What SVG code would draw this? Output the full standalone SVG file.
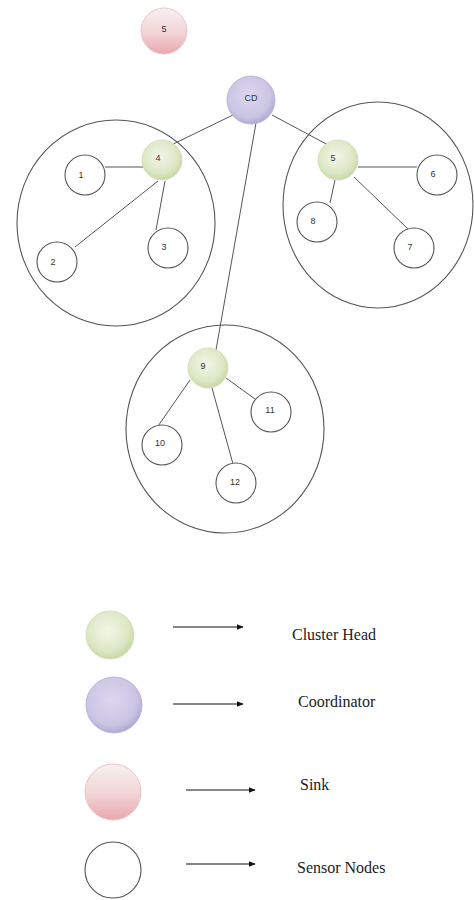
<svg xmlns="http://www.w3.org/2000/svg" width="474" height="900" viewBox="0 0 474 900">
<defs>
<radialGradient id="gGreen" cx="0.45" cy="0.4" r="0.6">
<stop offset="0" stop-color="#f3f6e8"/>
<stop offset="0.7" stop-color="#dde8c6"/>
<stop offset="1" stop-color="#c8d9a6"/>
</radialGradient>
<radialGradient id="gPurple" cx="0.45" cy="0.4" r="0.6">
<stop offset="0" stop-color="#dcd7ee"/>
<stop offset="0.75" stop-color="#cbc5e4"/>
<stop offset="1" stop-color="#b2abd2"/>
</radialGradient>
<linearGradient id="gPink" x1="0" y1="0" x2="0" y2="1">
<stop offset="0" stop-color="#f8f0f0"/>
<stop offset="0.5" stop-color="#f2d6d8"/>
<stop offset="1" stop-color="#e8a8ae"/>
</linearGradient>
<marker id="arr" viewBox="0 0 10 10" refX="9" refY="5" markerWidth="7" markerHeight="7" markerUnits="userSpaceOnUse" orient="auto">
<path d="M0,1 L10,5 L0,9 z" fill="#111"/>
</marker>
<style>
.cl{fill:none;stroke:#555;stroke-width:1.1}
.sn{fill:#fff;stroke:#555;stroke-width:1.1}
.ch{fill:url(#gGreen);stroke:#d4e1bd;stroke-width:1}
.co{fill:url(#gPurple);stroke:#bdb6d8;stroke-width:1}
.sk{fill:url(#gPink);stroke:#e6c6c8;stroke-width:1}
.ln{stroke:#555;stroke-width:1;fill:none}
.lb{font-family:"Liberation Sans","Open Sans",sans-serif;font-size:9px;fill:#333;text-anchor:middle;dominant-baseline:central}
.lg{font-family:"Liberation Serif","Times New Roman",serif;font-size:16px;fill:#222}
.ar{stroke:#111;stroke-width:1.2;marker-end:url(#arr)}
</style>
</defs>
<rect width="474" height="900" fill="#fff"/>

<g id="clusters">
<ellipse class="cl" cx="116" cy="223" rx="99" ry="103"/>
<ellipse class="cl" cx="378" cy="205" rx="95" ry="103"/>
<ellipse class="cl" cx="225" cy="429" rx="99" ry="104"/>
</g>

<g id="connectors">
<line class="ln" x1="233" y1="115" x2="165" y2="148"/>
<line class="ln" x1="272" y1="115" x2="330" y2="146"/>
<line class="ln" x1="256" y1="123" x2="216" y2="350"/>
<line class="ln" x1="105" y1="167" x2="144" y2="167"/>
<line class="ln" x1="158" y1="181" x2="75" y2="247"/>
<line class="ln" x1="165" y1="181" x2="156" y2="230"/>
<line class="ln" x1="358" y1="167" x2="417" y2="167"/>
<line class="ln" x1="335" y1="180" x2="330" y2="203"/>
<line class="ln" x1="354" y1="177" x2="408" y2="229"/>
<line class="ln" x1="190" y1="380" x2="158" y2="426"/>
<line class="ln" x1="226" y1="378" x2="255" y2="399"/>
<line class="ln" x1="212" y1="388" x2="233" y2="464"/>
</g>

<g id="sink"><circle class="sk" cx="164" cy="31" r="23"/><text class="lb" x="164" y="29">5</text></g>
<g id="cd"><circle class="co" cx="251" cy="100" r="24"/><text class="lb" x="251" y="98">CD</text></g>

<g id="n4"><circle class="ch" cx="162" cy="160" r="20"/><text class="lb" x="158" y="158">4</text></g>
<g id="n1"><circle class="sn" cx="85" cy="175" r="20"/><text class="lb" x="81" y="175">1</text></g>
<g id="n2"><circle class="sn" cx="57" cy="262" r="20"/><text class="lb" x="53" y="262">2</text></g>
<g id="n3"><circle class="sn" cx="168" cy="248" r="20"/><text class="lb" x="164" y="247">3</text></g>

<g id="n5"><circle class="ch" cx="338" cy="160" r="20"/><text class="lb" x="333" y="158">5</text></g>
<g id="n6"><circle class="sn" cx="437" cy="175" r="20"/><text class="lb" x="433" y="174">6</text></g>
<g id="n8"><circle class="sn" cx="317" cy="222" r="20"/><text class="lb" x="313" y="221">8</text></g>
<g id="n7"><circle class="sn" cx="414" cy="248" r="20"/><text class="lb" x="410" y="247">7</text></g>

<g id="n9"><circle class="ch" cx="208" cy="368" r="20"/><text class="lb" x="203" y="366">9</text></g>
<g id="n10"><circle class="sn" cx="162" cy="445" r="20"/><text class="lb" x="160" y="443">10</text></g>
<g id="n11"><circle class="sn" cx="271" cy="412" r="20"/><text class="lb" x="270" y="410">11</text></g>
<g id="n12"><circle class="sn" cx="236" cy="483" r="20"/><text class="lb" x="235" y="482">12</text></g>

<g id="legend-ch"><circle class="ch" cx="110" cy="635" r="24"/><line class="ar" x1="173" y1="627" x2="243" y2="627"/><text class="lg" x="292" y="640">Cluster Head</text></g>
<g id="legend-co"><circle class="co" cx="114" cy="705" r="28"/><line class="ar" x1="173" y1="704" x2="243" y2="704"/><text class="lg" x="298" y="707">Coordinator</text></g>
<g id="legend-sk"><circle class="sk" cx="113" cy="792" r="28"/><line class="ar" x1="186" y1="790" x2="255" y2="790"/><text class="lg" x="300" y="790">Sink</text></g>
<g id="legend-sn"><circle class="sn" cx="113" cy="870" r="28"/><line class="ar" x1="186" y1="864" x2="255" y2="864"/><text class="lg" x="297" y="873">Sensor Nodes</text></g>
</svg>
